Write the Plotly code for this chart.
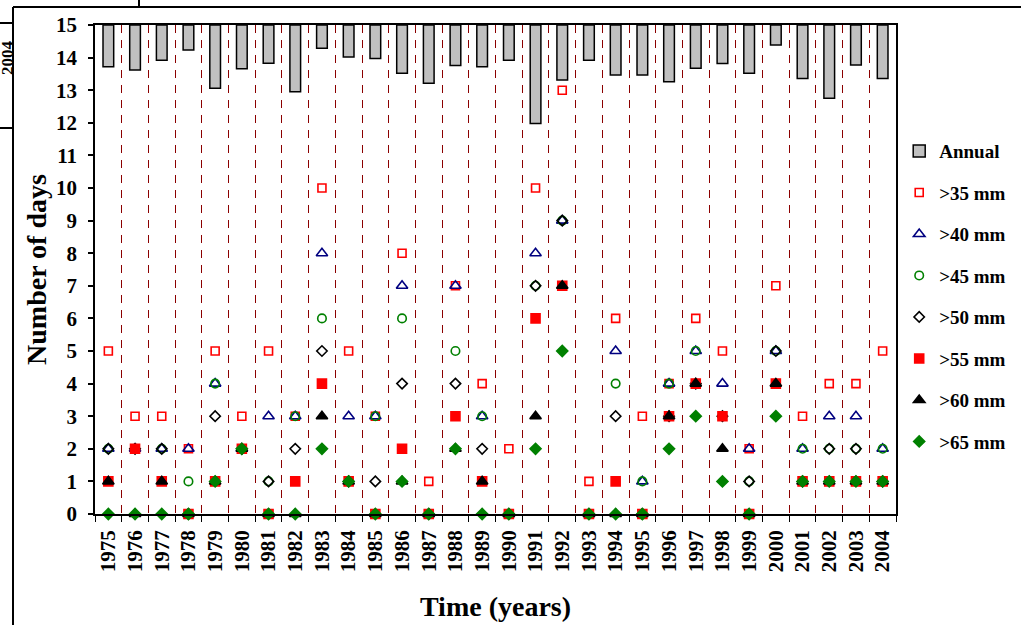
import plotly.graph_objects as go

# Years on the category axis
years = [str(y) for y in range(1975, 2005)]

# Annual bars hang from the top of the axis down to these levels
annual_level = [13.72, 13.62, 13.92, 14.23, 13.06, 13.66, 13.83, 12.95, 14.29, 14.02,
                13.97, 13.52, 13.21, 13.76, 13.72, 13.92, 11.98, 13.31, 13.92, 13.47,
                13.47, 13.26, 13.67, 13.82, 13.52, 14.39, 13.36, 12.75, 13.77, 13.36]

# Number of days above each rainfall threshold
gt35 = [5, 3, 3, 2, 5, 3, 5, 3, 10, 5, 3, 8, 1, 7, 4, 2, 10, 13, 1, 6, 3, 4, 6, 5, 2, 7, 3, 4, 4, 5]
gt40 = [2, 2, 2, 2, 4, 2, 3, 3, 8, 3, 3, 7, 0, 7, 3, 0, 8, 9, 0, 5, 1, 4, 5, 4, 2, 5, 2, 3, 3, 2]
gt45 = [2, 2, 2, 1, 4, 2, 1, 3, 6, 1, 3, 6, 0, 5, 3, 0, 7, 9, 0, 4, 1, 4, 5, 3, 1, 5, 2, 2, 2, 2]
gt50 = [2, 2, 2, 0, 3, 2, 1, 2, 5, 1, 1, 4, 0, 4, 2, 0, 7, 9, 0, 3, 0, 3, 4, 3, 1, 5, 1, 2, 2, 1]
gt55 = [1, 2, 1, 0, 1, 2, 0, 1, 4, 1, 0, 2, 0, 3, 1, 0, 6, 7, 0, 1, 0, 3, 4, 3, 0, 4, 1, 1, 1, 1]
gt60 = [1, 0, 1, 0, 1, 2, 0, 0, 3, 1, 0, 1, 0, 2, 1, 0, 3, 7, 0, 0, 0, 3, 4, 2, 0, 4, 1, 1, 1, 1]
gt65 = [0, 0, 0, 0, 1, 2, 0, 0, 2, 1, 0, 1, 0, 2, 0, 0, 2, 5, 0, 0, 0, 2, 3, 1, 0, 3, 1, 1, 1, 1]

y_top = 15
y_ticks = list(range(0, 16))

FONT = "Liberation Serif"

fig = go.Figure()

fig.add_trace(go.Bar(
    x=years, base=y_top, y=[v - y_top for v in annual_level],
    name="Annual", width=0.4,
    marker=dict(color="#C0C0C0", line=dict(color="black", width=1.5)),
    legendgroup="a",
))

series = [
    (">35 mm", gt35, "square-open", "#FF0000", 8),
    (">40 mm", gt40, "triangle-up-open", "#000080", 10),
    (">45 mm", gt45, "circle-open", "#008000", 8.5),
    (">50 mm", gt50, "diamond-open", "black", 8),
    (">55 mm", gt55, "square", "#FF0000", 9),
    (">60 mm", gt60, "triangle-up", "black", 10),
    (">65 mm", gt65, "diamond", "#008000", 8.5),
]
for i, (name, vals, sym, col, size) in enumerate(series):
    fig.add_trace(go.Scatter(
        x=years, y=vals, mode="markers", name=name, cliponaxis=False,
        marker=dict(symbol=sym, color=col, size=size, line=dict(color=col, width=1.6)),
        legendgroup=f"s{i}",
    ))

W, H = 1021, 625
L, R, T, B = 95, 125, 25, 111
pw, ph = W - L - R, H - T - B

def px(x):
    return (x - L) / pw

def py(y):
    return (H - B - y) / ph

line_style = dict(color="black", width=2)
shapes = [
    # page frame fragments along the top-left edge
    dict(type="line", xref="paper", yref="paper", x0=px(13), x1=px(1021), y0=py(7), y1=py(7), line=line_style),
    dict(type="line", xref="paper", yref="paper", x0=px(139), x1=px(139), y0=py(0), y1=py(7), line=line_style),
    dict(type="line", xref="paper", yref="paper", x0=px(13), x1=px(13), y0=py(7), y1=py(625), line=line_style),
    dict(type="line", xref="paper", yref="paper", x0=px(0), x1=px(13), y0=py(23), y1=py(23), line=line_style),
    dict(type="line", xref="paper", yref="paper", x0=px(0), x1=px(13), y0=py(128), y1=py(128), line=line_style),
]

fig.update_layout(
    width=W, height=H,
    margin=dict(l=L, r=R, t=T, b=B, autoexpand=False),
    paper_bgcolor="white", plot_bgcolor="white",
    font=dict(family=FONT, color="black", size=20, weight="bold"),
    barmode="overlay",
    showlegend=True,
    legend=dict(x=1.004, y=0.781, xanchor="left", yanchor="top",
                font=dict(family=FONT, size=19, weight="bold"),
                tracegroupgap=13.8, itemwidth=30, bgcolor="rgba(0,0,0,0)"),
    shapes=shapes,
    annotations=[dict(text="2004", xref="paper", yref="paper", x=px(7), y=py(58),
                      xanchor="center", yanchor="middle",
                      textangle=-90, showarrow=False,
                      font=dict(family=FONT, size=17, weight="bold", color="black"))],
    xaxis=dict(
        type="category", tickson="boundaries", tickangle=-90,
        showgrid=True, gridcolor="#8B0000", griddash="8px,7px", gridwidth=1.3,
        showline=True, linecolor="black", linewidth=1.5, mirror=True,
        ticks="outside", ticklen=6, tickcolor="black", tickwidth=1,
        ticklabelstandoff=6,
        tickfont=dict(family=FONT, size=21, weight="bold"),
        title=dict(text="Time (years)", font=dict(family=FONT, size=28, weight="bold"), standoff=25),
        range=[-0.5, len(years) - 0.5],
    ),
    yaxis=dict(
        range=[0, y_top], tickvals=y_ticks, showgrid=False, zeroline=False,
        showline=True, linecolor="black", linewidth=1.5, mirror=True,
        ticks="outside", ticklen=5, tickcolor="black", tickwidth=1.5,
        ticklabelstandoff=7,
        tickfont=dict(family=FONT, size=21, weight="bold"),
        title=dict(text="Number of days", font=dict(family=FONT, size=28, weight="bold"), standoff=1),
    ),
)

fig.write_html("out.html")
